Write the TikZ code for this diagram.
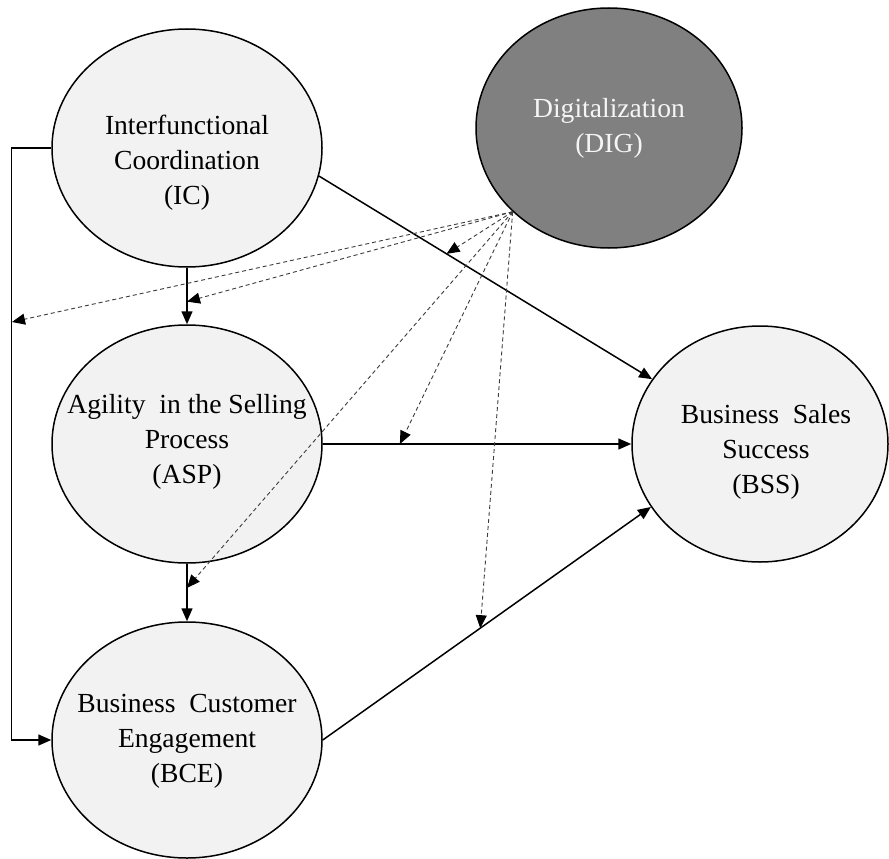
\documentclass[tikz,border=0pt]{standalone}
\usepackage{fontspec}
\setmainfont{Liberation Serif}
\usetikzlibrary{shapes.geometric,arrows.meta}
\definecolor{ellfill}{HTML}{F2F2F2}
\definecolor{digfill}{HTML}{808080}
\definecolor{dashgray}{HTML}{3C3C3C}
\tikzset{
  ell/.style={ellipse,draw=black,line width=1.5pt,fill=ellfill,inner sep=0pt},
  lbl/.style={align=center,font=\fontsize{27.6}{35}\selectfont,inner sep=0pt},
  solidarrow/.style={line width=1.5pt,-{Triangle[length=13pt,width=11pt]}},
  modarrow/.style={line width=0.9pt,dashgray,dash pattern=on 4pt off 3pt,-{Triangle[length=13pt,width=11pt,fill=black,color=black]}}
}
\begin{document}
\begin{tikzpicture}[x=1pt,y=1pt]
\useasboundingbox (0,0) rectangle (889,-859);
\fill[white] (0,0) rectangle (889,-859);
% ellipses
\node[ell,minimum width=270pt,minimum height=238pt] (IC) at (187,-148) {};
\node[ell,fill=digfill,minimum width=266pt,minimum height=240pt] (DIG) at (609,-128) {};
\node[ell,minimum width=270pt,minimum height=238pt] (ASP) at (187,-444) {};
\node[ell,minimum width=256pt,minimum height=236pt] (BSS) at (760,-444) {};
\node[ell,minimum width=270pt,minimum height=236pt] (BCE) at (187,-740) {};
% labels
\node[lbl] (ICt) at (187,-163) {Interfunctional\\Coordination\\(IC)};
\node[lbl,text={rgb,255:red,245;green,245;blue,245}] (DIGt) at (609,-128) {Digitalization\\(DIG)};
\node[lbl] (ASPt) at (187,-442) {Agility\ \ in the Selling\\Process\\(ASP)};
\node[lbl] (BSSt) at (766,-452) {Business\ \ Sales\\Success\\(BSS)};
\node[lbl] (BCEt) at (187,-741) {Business\ \ Customer\\Engagement\\(BCE)};
% structural paths
\draw[solidarrow] (IC.south) -- (ASP.north);
\draw[solidarrow] (ASP.south) -- (BCE.north);
\draw[solidarrow] (IC.west) -- ++(-40,0) coordinate (L1) |- (BCE.west);
\draw[solidarrow] (IC.-12.5) -- (BSS.149.5);
\draw[solidarrow] (ASP.east) -- (BSS.west);
\draw[solidarrow] (BCE.east) -- (BSS.210.5);
% moderation target points
\coordinate (D) at (DIG.221);
\coordinate (m1) at (12,-322);
\path (IC.south) -- coordinate[pos=0.6] (m2) (ASP.north);
\path (IC.-12.5) -- coordinate[pos=0.383] (m3) (BSS.149.5);
\path (ASP.east) -- coordinate[pos=0.25] (m4) (BSS.west);
\path (ASP.south) -- coordinate[pos=0.42] (m5) (BCE.north);
\path (BCE.east) -- coordinate[pos=0.48] (m6) (BSS.210.5);
% moderation arrows
\draw[modarrow] (D) -- (m1);
\draw[modarrow] (D) -- (m2);
\draw[modarrow] (D) -- (m3);
\draw[modarrow] (D) -- (m4);
\draw[modarrow] (D) -- (m5);
\draw[modarrow] (D) -- (m6);
\end{tikzpicture}
\end{document}
